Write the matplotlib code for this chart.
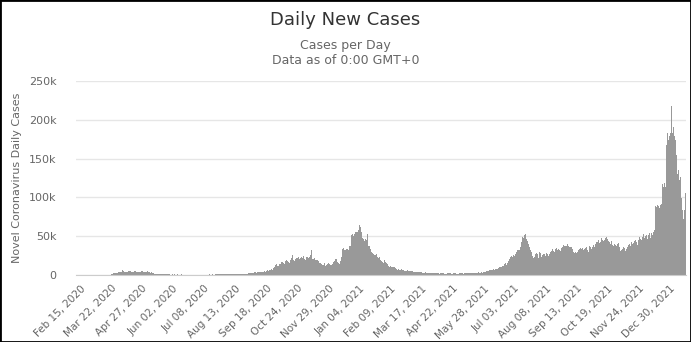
import datetime as dt

import matplotlib
matplotlib.use("Agg")
import matplotlib.pyplot as plt
import matplotlib.dates as mdates
from matplotlib.patches import Rectangle
from matplotlib.ticker import FuncFormatter, MultipleLocator

# daily new cases, in thousands, one value per day starting at first_day
first_day = dt.date(2020, 2, 13)
tick_start = dt.date(2020, 2, 15)
tick_step_days = 36
tick_count = 20

spring_2020 = [
    0.0, 0.0, 0.0, 0.0, 0.0, 0.0, 0.0, 0.0, 0.0, 0.0, 0.0, 0.0, 0.0,
    0.0, 0.0, 0.0, 0.0, 0.0, 0.0, 0.0, 0.0, 0.0, 0.0, 0.0, 0.0, 0.0,
    0.01, 0.02, 0.03, 0.05, 0.07, 0.1, 0.15, 0.2, 0.25, 0.35, 0.4, 0.6, 0.8,
    1.4, 1.6, 2.1, 2.5, 2.6, 2.9, 2.6,
    3.0, 4.3, 4.4, 4.5, 3.7, 5.9, 5.2,
    6.2, 4.3, 3.6, 4.2, 4.0, 4.8, 5.3,
    4.6, 4.7, 3.9, 3.6, 4.3, 4.9, 5.5,
    4.4, 4.1, 3.9, 4.0, 3.8, 4.3, 4.9,
    5.0, 4.2, 3.7, 3.9, 4.1, 4.3, 4.6,
    3.6, 3.2, 3.4, 3.1, 3.3, 2.9, 2.4,
    1.6, 1.5, 1.8, 1.7, 1.4, 1.5, 1.3,
    1.2, 1.4, 1.3, 1.1, 0.9, 0.8, 0.7,
    0.8, 0.7, 0.6, 0.8, 0.7, 0.6, 0.6,
]

summer_2020 = [
    0.7, 0.6, 0.8, 0.7, 0.5, 0.6, 0.7,
    0.6, 0.5, 0.5, 0.6, 0.7, 0.6, 0.5,
    0.5, 0.4, 0.5, 0.6, 0.5, 0.5, 0.4,
    0.4, 0.5, 0.6, 0.5, 0.4, 0.4, 0.5,
    0.5, 0.6, 0.5, 0.4, 0.5, 0.6, 0.5,
    0.4, 0.5, 0.5, 0.6, 0.5, 0.4, 0.5,
    0.6, 0.7, 0.6, 0.5, 0.6, 0.7, 0.6,
    0.6, 0.7, 0.8, 0.7, 0.6, 0.7, 0.8,
    0.7, 0.8, 0.9, 1.0, 0.8, 0.7, 0.9,
    1.0, 1.1, 0.9, 0.8, 1.0, 1.1, 1.2,
    1.0, 0.9, 1.0, 1.1, 1.0, 1.2, 1.3,
    1.1, 1.0, 1.2, 1.1, 1.3, 1.2, 1.0,
    1.3, 1.5, 1.7,
]

second_wave = [
    1.8, 2.0, 2.9, 2.5, 2.1, 2.3, 2.9,
    3.0, 3.3, 3.5, 3.1, 2.6, 3.9, 3.4,
    3.7, 4.0, 3.5, 4.3, 4.4, 3.9, 4.9,
    4.4, 5.5, 6.2, 5.8, 5.0, 6.6, 7.0,
    7.2, 6.8, 9.5, 10.8, 11.5, 12.6, 13.8,
    12.1, 11.3, 13.9, 14.5, 15.9, 17.2, 16.9,
    15.2, 14.0, 17.5, 18.9, 19.7, 18.1, 16.4,
    15.5, 19.8, 22.0, 25.6, 21.3, 19.1, 18.2,
    20.8, 22.1, 21.5, 23.0, 20.4, 19.0, 21.3,
    22.9, 22.5, 24.4, 21.0, 19.3, 20.2, 22.6,
    23.0, 21.4, 22.9, 25.3, 32.0, 24.6, 21.1,
    20.5, 21.4, 19.8, 18.7, 19.9, 20.3, 17.6,
    16.0, 15.4, 14.1, 12.8, 13.2, 14.9, 12.3,
    11.6, 12.9, 13.8, 15.2, 14.0, 12.3, 11.9,
    13.4, 14.7, 16.2, 18.1, 20.4, 21.1, 19.3,
    17.3, 16.1, 14.5, 18.0, 23.2, 33.9, 35.1,
    34.5, 32.3, 31.7, 33.0, 33.8, 32.0, 36.8,
    38.6, 37.9, 51.4, 53.2, 50.7, 52.7, 55.1,
    57.0, 54.8, 55.9, 58.1, 64.5, 62.0, 55.3,
    49.5, 47.1, 45.8, 43.3, 46.2, 44.5, 53.0,
    38.0, 35.5, 37.2, 33.9, 30.1, 28.6, 27.4,
    26.3, 24.0, 25.8, 27.6, 22.9, 21.4, 23.8,
    19.2, 18.6, 17.5, 16.8, 15.1, 18.9, 17.0,
    15.8, 14.2, 12.4, 11.7, 10.6, 12.0, 10.9,
    10.4, 9.8, 10.3, 9.9, 8.5, 7.4, 6.3,
]

spring_2021 = [
    7.3, 6.6, 6.1, 5.8, 7.7, 6.6, 6.0,
    5.5, 5.6, 5.3, 5.0, 5.8, 5.2, 4.8,
    4.7, 5.4, 5.7, 4.6, 4.4, 3.9, 4.5,
    4.4, 3.6, 3.4, 3.8, 4.0, 4.1, 3.4,
    3.2, 3.0, 2.9, 3.0, 3.4, 3.1, 2.6,
    2.4, 2.5, 2.8, 2.7, 2.4, 2.2, 2.6,
    2.5, 2.0, 2.2, 2.7, 2.6, 2.0, 1.9,
    2.2, 2.1, 2.3, 2.0, 2.5, 1.9, 1.7,
    1.8, 2.2, 2.4, 2.0, 2.6, 2.1, 1.7,
    1.9, 2.1, 2.3, 2.5, 1.8, 2.0, 1.6,
    1.9, 2.6, 2.3, 2.1, 2.4, 1.8, 1.7,
    2.0, 2.4, 2.8, 2.2, 2.7, 2.5, 2.0,
    2.2, 2.6, 2.9, 2.7, 3.1, 2.4, 2.3,
    2.7, 3.2, 3.6, 3.0, 3.2, 3.4, 3.0,
]

third_wave = [
    3.2, 4.1, 4.4, 4.0, 4.9, 5.3, 5.1,
    5.3, 5.8, 6.1, 6.6, 6.8, 7.8, 7.2,
    6.9, 7.6, 7.4, 8.1, 8.6, 10.3, 9.8,
    9.1, 10.6, 11.0, 11.6, 14.2, 15.8, 12.9,
    14.8, 16.1, 18.3, 20.6, 23.0, 24.2, 22.9,
    24.2, 26.1, 24.9, 27.3, 29.0, 32.5, 31.8,
    32.3, 34.0, 36.6, 42.3, 48.6, 47.3, 51.9,
    53.4, 48.2, 46.6, 43.8, 39.9, 36.4, 31.8,
    29.6, 27.7, 24.9, 21.9, 23.5, 26.5, 28.4,
    27.3, 24.5, 21.8, 29.6, 28.8, 23.5, 25.6,
    27.1, 26.8, 21.7, 23.9, 28.1, 26.5, 24.4,
    26.6, 29.8, 32.0, 30.5, 33.3, 31.1, 30.2,
    33.9, 34.7, 32.5, 31.9, 34.1, 32.6, 30.7,
    34.2, 35.7, 37.6, 38.7, 37.2, 36.9, 38.0,
    39.4, 37.0, 36.4, 33.8, 35.7, 36.1, 32.9,
    29.9, 28.8, 30.2, 29.3, 28.4, 29.0, 32.4,
    33.6, 34.9, 33.2, 36.1, 35.2, 32.7, 33.5,
    34.4, 36.0, 31.6, 30.1, 34.7, 37.2, 35.9,
    34.1, 36.5, 39.3, 35.8, 33.2, 40.2, 42.8,
    43.0, 44.9, 40.8, 42.5, 45.1, 48.3, 44.7,
    43.6, 45.0, 47.7, 49.1, 52.0, 46.4, 44.1,
    41.9, 40.0, 43.3, 39.2, 37.8, 41.0, 39.6,
    38.1, 37.0, 40.5, 41.2, 35.7, 33.1, 31.0,
    32.0, 33.6, 35.7, 34.4, 30.9, 29.4, 33.0,
    36.7, 38.2, 40.1, 37.9, 42.0, 39.6, 36.4,
    41.5, 43.8, 44.8, 42.1, 39.0, 45.6, 47.2,
    49.5, 46.4, 45.3, 48.8, 52.5, 47.1, 44.2,
    50.9, 51.4, 46.2, 52.0, 54.7, 48.3, 50.1,
]

omicron = [
    53.9, 51.6, 55.8, 58.2, 88.4, 87.6, 90.0,
    86.2, 88.9, 86.0, 90.3, 91.7, 117.5, 114.0,
    120.3, 118.1, 113.2, 167.0, 182.4, 174.5, 179.2,
    186.5, 183.0, 217.9, 183.6, 190.1, 178.6, 174.2,
    155.0, 140.3, 129.7, 135.9, 121.8, 126.2, 98.6,
    83.7, 79.1, 72.6, 84.2, 105.6,
]

daily_k = spring_2020 + summer_2020 + second_wave + spring_2021 + third_wave + omicron
cases = [v * 1000 for v in daily_k]
days = [first_day + dt.timedelta(days=i) for i in range(len(cases))]
tick_days = [tick_start + dt.timedelta(days=tick_step_days * k) for k in range(tick_count)]

W, H = 691, 342
fig = plt.figure(figsize=(W / 100, H / 100), dpi=100)
fig.patch.set_facecolor("white")

left, right, top, bottom = 76, 686, 81, 275
ax = fig.add_axes([left / W, 1 - bottom / H, (right - left) / W, (bottom - top) / H])

ax.bar(mdates.date2num(days), cases, width=1.0, color="#999999", linewidth=0, zorder=2)

ax.set_ylim(0, 250000)
ax.yaxis.set_major_locator(MultipleLocator(50000))
ax.yaxis.set_major_formatter(FuncFormatter(lambda v, p: "0" if v == 0 else f"{v / 1000:.0f}k"))
ax.grid(axis="y", color="#e6e6e6", linewidth=1, zorder=0)
ax.set_axisbelow(True)

x0 = mdates.date2num(first_day) - 2.6
x1 = mdates.date2num(first_day) + 704.5
ax.set_xlim(x0, x1)
ax.set_xticks(mdates.date2num(tick_days))
ax.set_xticklabels([d.strftime("%b %d, %Y") for d in tick_days],
                   rotation=45, ha="right", rotation_mode="anchor")

for s in ("top", "right", "left"):
    ax.spines[s].set_visible(False)
ax.spines["bottom"].set_color("#cccccc")
ax.tick_params(axis="y", length=0, pad=14, labelsize=8, labelcolor="#666666")
ax.tick_params(axis="x", length=0, pad=6, labelsize=7.5, labelcolor="#666666")

fig.text(0.5, 1 - 20 / H, "Daily New Cases", ha="center", va="center",
         fontsize=13, color="#333333", family=["Liberation Sans Narrow", "DejaVu Sans"])
fig.text(0.5, 1 - 45 / H, "Cases per Day", ha="center", va="center",
         fontsize=9, color="#666666", family=["Liberation Sans Narrow", "DejaVu Sans"])
fig.text(0.5, 1 - 61 / H, "Data as of 0:00 GMT+0", ha="center", va="center",
         fontsize=9, color="#666666", family=["Liberation Sans Narrow", "DejaVu Sans"])
fig.text(17 / W, 1 - 178 / H, "Novel Coronavirus Daily Cases", rotation=90,
         ha="center", va="center", fontsize=8, color="#666666")

fig.patches.append(Rectangle((0, 0), 1, 1, transform=fig.transFigure,
                             fill=False, edgecolor="black", linewidth=2))

fig.savefig("out.png", dpi=100)
